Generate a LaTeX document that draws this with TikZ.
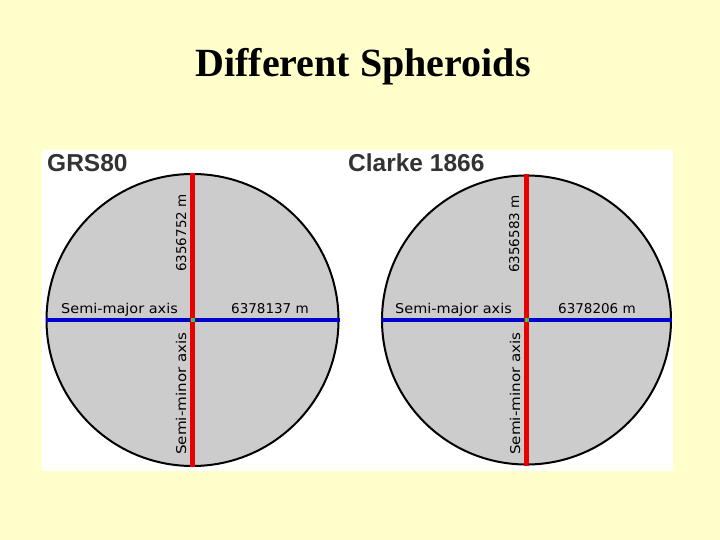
\documentclass[tikz,border=0pt]{standalone}
\usepackage{fontspec}
\setmainfont{Liberation Serif}
\newfontfamily\labfont{DejaVu Sans}
\newfontfamily\headfont{Liberation Sans}
\definecolor{bgyellow}{RGB}{255,255,204}
\definecolor{diskgray}{RGB}{204,204,204}
\definecolor{axred}{RGB}{230,0,0}
\definecolor{axblue}{RGB}{0,0,204}
\definecolor{dotgreen}{RGB}{51,204,51}
\definecolor{headgray}{RGB}{51,51,51}
\begin{document}
\begin{tikzpicture}[x=1pt,y=-1pt,
  disk/.style={circle,draw=black,line width=2pt,fill=diskgray,inner sep=0pt,minimum size=292pt},
  majorax/.style={draw=axblue,line width=4.5pt},
  minorax/.style={draw=axred,line width=4.5pt},
  centredot/.style={fill=dotgreen,inner sep=0pt,minimum size=4pt,rectangle},
  lab/.style={font=\labfont\fontsize{13.5}{15}\selectfont,inner sep=0pt,text=black},
  head/.style={font=\headfont\bfseries\fontsize{24.5}{28}\selectfont,text=headgray,inner sep=0pt,anchor=base west}]
\fill[bgyellow] (0,0) rectangle (720,540);
\useasboundingbox (0,0) rectangle (720,540);
\node[font=\bfseries\fontsize{40}{44}\selectfont,inner sep=0pt,anchor=base] (title) at (363,77) {Different Spheroids};
\fill[white] (42,150) rectangle (673,471);
% left spheroid
\node[disk] (d1) at (192.5,320) {};
\draw[majorax] (d1.west) -- (d1.east);
\draw[minorax] (d1.north) -- (d1.south);
\node[centredot] (c1) at (d1.center) {};
\node[head] (h1) at (47,172) {GRS80};
\node[lab,anchor=base west] (ma1) at (61,313) {\scalebox{1.07}[1]{Semi-major axis}};
\node[lab,anchor=base west] (mv1) at (231,313) {6378137 m};
\node[lab,anchor=base west,rotate=90] (bv1) at (186,272) {6356752 m};
\node[lab,anchor=base west,rotate=90] (mi1) at (186,455) {\scalebox{1.12}[1]{Semi-minor axis}};
% right spheroid
\node[disk,minimum size=289pt] (d2) at (526.5,320) {};
\draw[majorax] (d2.west) -- (d2.east);
\draw[minorax] (d2.north) -- (d2.south);
\node[centredot] (c2) at (d2.center) {};
\node[head] (h2) at (348,172) {Clarke 1866};
\node[lab,anchor=base west] (ma2) at (395,313) {\scalebox{1.07}[1]{Semi-major axis}};
\node[lab,anchor=base west] (mv2) at (558,313) {6378206 m};
\node[lab,anchor=base west,rotate=90] (bv2) at (519,273) {6356583 m};
\node[lab,anchor=base west,rotate=90] (mi2) at (520,455) {\scalebox{1.12}[1]{Semi-minor axis}};
\end{tikzpicture}
\end{document}
